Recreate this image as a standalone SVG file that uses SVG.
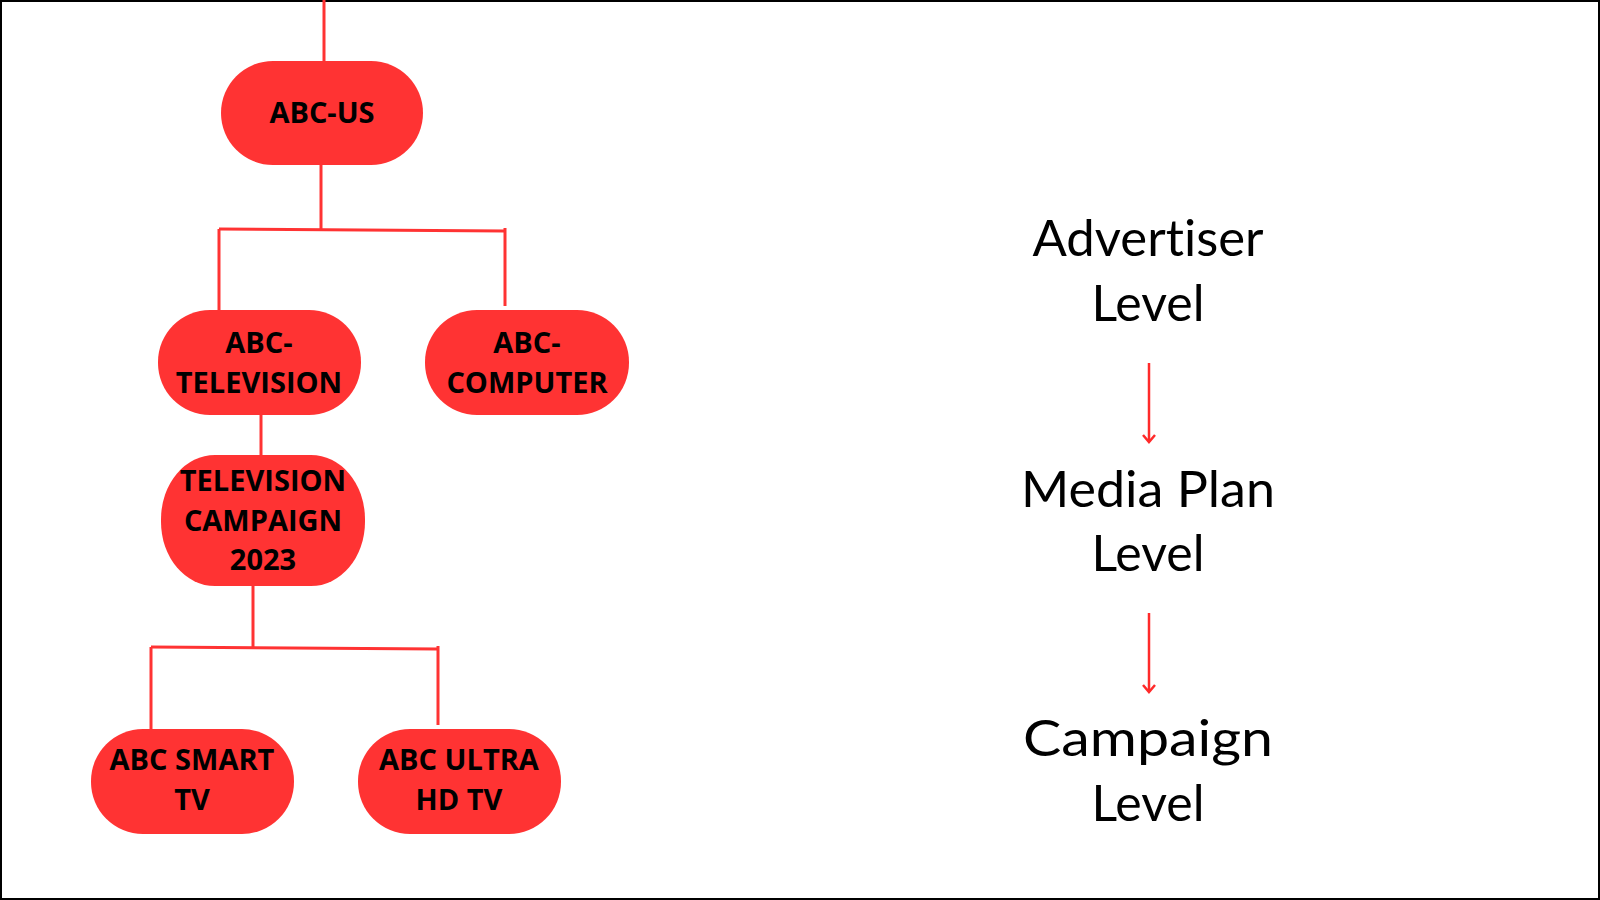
<svg xmlns="http://www.w3.org/2000/svg" width="1600" height="900" viewBox="0 0 1600 900">
<defs>
<style>
.node{fill:#ff3333;}
.nt{font-family:"Open Sans","Liberation Sans",sans-serif;font-weight:700;font-size:29px;fill:#000;text-anchor:middle;}
.lvl{font-family:Lato,"Noto Sans",sans-serif;font-size:50px;fill:#000;text-anchor:middle;font-variant-ligatures:none;font-feature-settings:"liga" 0;}
.con{stroke:#ff3333;stroke-width:3;fill:none;}
.arr{stroke:#ff2a2a;stroke-width:2.5;fill:none;}
</style>
<marker id="ah" markerWidth="12" markerHeight="14" refX="9" refY="7" orient="auto" markerUnits="userSpaceOnUse" viewBox="0 0 12 14">
<path d="M2,1 L9,7 L2,13" fill="none" stroke="#ff2a2a" stroke-width="2.5"/>
</marker>
</defs>
<rect x="1" y="1" width="1598" height="898" fill="#fff" stroke="#000" stroke-width="2"/>
<g id="connectors">
<line class="con" x1="324" y1="0" x2="324" y2="62"/>
<line class="con" x1="321" y1="164" x2="321" y2="230"/>
<line class="con" x1="219" y1="229" x2="505" y2="231"/>
<line class="con" x1="219" y1="229" x2="219" y2="310"/>
<line class="con" x1="505" y1="228" x2="505" y2="306"/>
<line class="con" x1="261" y1="414" x2="261" y2="456"/>
<line class="con" x1="253" y1="585" x2="253" y2="648"/>
<line class="con" x1="151" y1="647" x2="438" y2="649"/>
<line class="con" x1="151" y1="647" x2="151" y2="729"/>
<line class="con" x1="438" y1="646" x2="438" y2="725"/>
<line class="arr" x1="1149" y1="363" x2="1149" y2="442" marker-end="url(#ah)"/>
<line class="arr" x1="1149" y1="613" x2="1149" y2="692" marker-end="url(#ah)"/>
</g>
<g id="abc-us">
<rect class="node" x="221" y="61" width="202" height="104" rx="52" ry="52"/>
<text class="nt" x="322" y="123">ABC-US</text>
</g>
<g id="abc-television">
<rect class="node" x="158" y="310" width="203" height="105" rx="52" ry="52"/>
<text class="nt" x="259" y="353">ABC-</text>
<text class="nt" x="259" y="393">TELEVISION</text>
</g>
<g id="abc-computer">
<rect class="node" x="425" y="310" width="204" height="105" rx="52" ry="52"/>
<text class="nt" x="527" y="353">ABC-</text>
<text class="nt" x="527" y="393">COMPUTER</text>
</g>
<g id="television-campaign">
<rect class="node" x="161" y="455" width="204" height="131" rx="54" ry="64"/>
<text class="nt" x="263" y="491">TELEVISION</text>
<text class="nt" x="263" y="531">CAMPAIGN</text>
<text class="nt" x="263" y="570">2023</text>
</g>
<g id="abc-smart-tv">
<rect class="node" x="91" y="729" width="203" height="105" rx="52" ry="52"/>
<text class="nt" x="192" y="770">ABC SMART</text>
<text class="nt" x="192" y="810">TV</text>
</g>
<g id="abc-ultra-hd-tv">
<rect class="node" x="358" y="729" width="203" height="105" rx="52" ry="52"/>
<text class="nt" x="459" y="770">ABC ULTRA</text>
<text class="nt" x="459" y="810">HD TV</text>
</g>
<g id="levels">
<text class="lvl" x="1148" y="256" textLength="231" lengthAdjust="spacingAndGlyphs">Advertiser</text>
<text class="lvl" x="1148" y="321" textLength="113" lengthAdjust="spacingAndGlyphs">Level</text>
<text class="lvl" x="1148" y="507" textLength="254" lengthAdjust="spacingAndGlyphs">Media Plan</text>
<text class="lvl" x="1148" y="571" textLength="113" lengthAdjust="spacingAndGlyphs">Level</text>
<text class="lvl" x="1148" y="756" textLength="250" lengthAdjust="spacingAndGlyphs">Campaign</text>
<text class="lvl" x="1148" y="821" textLength="113" lengthAdjust="spacingAndGlyphs">Level</text>
</g>
</svg>
